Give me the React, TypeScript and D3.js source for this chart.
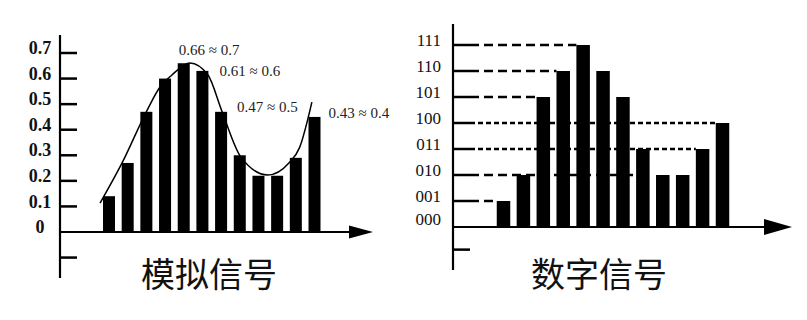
import React from "react";
import * as d3 from "d3";

// ---------- data ----------
const analogValues = [0.14, 0.27, 0.47, 0.6, 0.66, 0.63, 0.47, 0.3, 0.22, 0.22, 0.29, 0.45];
const analogTicks = [0, 0.1, 0.2, 0.3, 0.4, 0.5, 0.6, 0.7];
const analogTickLabels = ["0", "0.1", "0.2", "0.3", "0.4", "0.5", "0.6", "0.7"];
// smooth analog waveform, in (bar index, value)
const curveX = [-0.48, 0.7, 2.03, 2.73, 3.37, 4.33, 5.3, 6.04, 7.06, 8.5, 9.63, 10.2, 10.86];
const curveY = [0.113, 0.27, 0.475, 0.567, 0.614, 0.661, 0.614, 0.473, 0.293, 0.223, 0.27, 0.33, 0.508];
const noteTexts = ["0.66≈0.7", "0.61≈0.6", "0.47≈0.5", "0.43≈0.4"];
const noteBars = [4, 5, 6, 11];
const noteValues = [0.66, 0.61, 0.47, 0.43];

const digitalLevels = [1, 2, 5, 6, 7, 6, 5, 3, 2, 2, 3, 4];
const digitalTickLabels = ["000", "001", "010", "011", "100", "101", "110", "111"];
const guideLevels = [7, 6, 5, 4, 3, 2, 1];
const guideToBar = [4, 3, 2, 11, 10, 7, 0];

const titles = ["模拟信号", "数字信号"];

// ---------- layout ----------
const W = 807;
const H = 320;
const serif = "'Liberation Serif', 'Times New Roman', serif";
const cjk = "'Noto Sans CJK SC', sans-serif";

export default function App() {
  // left chart scales
  const lx = d3.scaleLinear().domain([0, 11]).range([109, 314.5]);
  const ly = d3.scaleLinear().domain([0, 0.7]).range([232, 53]);
  const lAxisX = 60;
  const lBarW = 12;
  const line = d3
    .line<number>()
    .x((_, i) => lx(curveX[i]))
    .y((d) => ly(d))
    .curve(d3.curveMonotoneX);
  const noteDx = [-5, 17, 16, 14];
  const noteDy = [-12, -3, -3, -7];

  // right chart scales
  const rx = d3.scaleLinear().domain([0, 11]).range([503.5, 722.5]);
  const ry = d3.scaleLinear().domain([0, 7]).range([227, 45]);
  const rAxisX = 453;
  const rBarW = 13.5;

  const arrow = (tip: number, y: number, len: number, half: number) =>
    `M${tip},${y} L${tip - len},${y - half} L${tip - len},${y + half} Z`;

  return (
    <svg
      width={W}
      height={H}
      style={{ position: "absolute", left: 0, top: 0, background: "#fff" }}
    >
      {/* ===== Left: analog ===== */}
      <g>
        {analogValues.map((v, i) => (
          <rect
            key={i}
            x={lx(i) - lBarW / 2}
            y={ly(v)}
            width={lBarW}
            height={ly(0) - ly(v)}
            fill="#000"
          />
        ))}
        <path d={line(curveY) || ""} fill="none" stroke="#000" strokeWidth={1.5} />
        {/* y axis */}
        <line x1={lAxisX} x2={lAxisX} y1={35} y2={278} stroke="#000" strokeWidth={2.2} />
        {analogTicks.slice(1).map((t) => (
          <line key={t} x1={lAxisX} x2={lAxisX + 17} y1={ly(t)} y2={ly(t)} stroke="#000" strokeWidth={2.5} />
        ))}
        <line x1={lAxisX} x2={lAxisX + 17} y1={ly(-0.1)} y2={ly(-0.1)} stroke="#000" strokeWidth={2.5} />
        {analogTicks.map((t, i) => (
          <text
            key={t}
            x={40}
            y={ly(t) - 3}
            textAnchor="middle"
            dominantBaseline="middle"
            fontFamily={serif}
            fontWeight="bold"
            fontSize={18}
            fill="#111"
          >
            {analogTickLabels[i]}
          </text>
        ))}
        {/* x axis */}
        <line x1={lAxisX} x2={352} y1={ly(0)} y2={ly(0)} stroke="#000" strokeWidth={2.2} />
        <path d={arrow(373, ly(0), 24, 6.5)} fill="#000" />
        {noteTexts.map((t, i) => (
          <text
            key={t}
            x={lx(noteBars[i]) + noteDx[i]}
            y={ly(noteValues[i]) + noteDy[i]}
            dominantBaseline="middle"
            fontFamily={serif}
            fontSize={15}
            fill="#222"
          >
            {t.replace("≈", " ≈ ")}
          </text>
        ))}
        <text
          x={209}
          y={278}
          textAnchor="middle"
          dominantBaseline="middle"
          fontFamily={cjk}
          fontSize={34}
          fill="#111"
        >
          {titles[0]}
        </text>
      </g>

      {/* ===== Right: digital ===== */}
      <g>
        {guideLevels.map((lv, i) => (
          <line
            key={lv}
            x1={rAxisX + 17}
            x2={rx(guideToBar[i]) - rBarW / 2}
            y1={ry(lv)}
            y2={ry(lv)}
            stroke="#000"
            strokeWidth={2.4}
            strokeDasharray={lv === 4 || lv === 3 ? "5 3" : "9 5"}
          />
        ))}
        {digitalLevels.map((v, i) => (
          <rect
            key={i}
            x={rx(i) - rBarW / 2}
            y={ry(v)}
            width={rBarW}
            height={ry(0) - ry(v)}
            fill="#000"
          />
        ))}
        <line x1={rAxisX} x2={rAxisX} y1={24} y2={270} stroke="#000" strokeWidth={2.2} />
        {digitalTickLabels.slice(1).map((_, i) => (
          <line
            key={i}
            x1={rAxisX}
            x2={rAxisX + 17}
            y1={ry(i + 1)}
            y2={ry(i + 1)}
            stroke="#000"
            strokeWidth={2.5}
          />
        ))}
        <line x1={rAxisX} x2={rAxisX + 17} y1={ry(-0.87)} y2={ry(-0.87)} stroke="#000" strokeWidth={2.5} />
        {digitalTickLabels.map((t, i) => (
          <text
            key={t}
            x={441}
            y={ry(i) - (i === 0 ? 6 : 3)}
            textAnchor="end"
            dominantBaseline="middle"
            fontFamily={serif}
            fontSize={17}
            fill="#111"
          >
            {t}
          </text>
        ))}
        <line x1={rAxisX} x2={766} y1={ry(0)} y2={ry(0)} stroke="#000" strokeWidth={2.2} />
        <path d={arrow(792, ry(0), 28, 8)} fill="#000" />
        <text
          x={599}
          y={278}
          textAnchor="middle"
          dominantBaseline="middle"
          fontFamily={cjk}
          fontSize={34}
          fill="#111"
        >
          {titles[1]}
        </text>
      </g>
    </svg>
  );
}
